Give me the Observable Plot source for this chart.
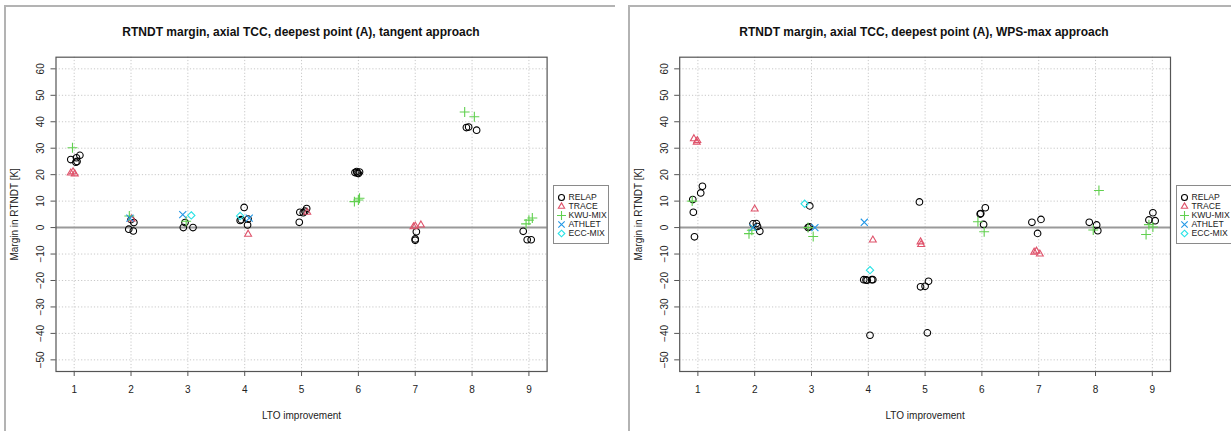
<!DOCTYPE html>
<html>
<head>
<meta charset="utf-8">
<script src="https://cdn.jsdelivr.net/npm/d3@7"></script>
<script src="https://cdn.jsdelivr.net/npm/@observablehq/plot@0.6"></script>
<style>
  body { margin: 0; background: #fff; font-family: "Liberation Sans", Arial, Helvetica, sans-serif; }
  #page { position: relative; width: 1231px; height: 431px; overflow: hidden; }
  .border { position: absolute; border-left: 2px solid #b3b3b3; border-top: 2px solid #b3b3b3; }
  .title { position: absolute; text-align: center; font-weight: bold; font-size: 12px; line-height: 14px; color: #111; white-space: nowrap; }
  .plotbox { position: absolute; top: 0; }
  .legend { position: absolute; border: 1.5px solid #8a8a8a; box-sizing: border-box; background: #fff; }
  svg { overflow: visible; }
</style>
</head>
<body>
<div id="page"></div>
<script>
// ---- tick labels / categories ----
const xTicks = [1, 2, 3, 4, 5, 6, 7, 8, 9];
const yTicks = [-50, -40, -30, -20, -10, 0, 10, 20, 30, 40, 50, 60];
const seriesNames = ["RELAP", "TRACE", "KWU-MIX", "ATHLET", "ECC-MIX"];
const seriesColors = ["#000000", "#DF536B", "#61D04F", "#2297E6", "#28E2E5"];
const seriesSymbols = ["circle", "triangle2", "plus", "times", "diamond2"];

// ---- tangent approach (left) : [LTO improvement (jittered), margin K] ----
const tangentRelap = [
  [0.94, 25.7], [1.03, 24.7], [1.05, 25.0], [1.04, 26.4], [1.10, 27.3],
  [1.96, -0.6], [2.04, -1.3], [2.05, 1.9], [2.00, 3.0],
  [2.92, 0.0], [3.09, 0.0], [2.95, 1.9],
  [3.99, 7.6], [3.92, 2.7], [3.94, 3.0], [4.06, 3.2], [4.05, 1.0],
  [4.96, 2.0], [4.97, 5.8], [5.03, 5.6], [5.06, 6.2], [5.09, 7.2],
  [5.94, 20.8], [5.97, 21.2], [6.00, 20.4], [6.02, 21.0], [5.98, 20.6],
  [7.02, -1.6], [7.00, -4.3], [7.00, -4.8],
  [7.90, 37.8], [7.94, 38.0], [8.08, 36.8],
  [8.90, -1.4], [8.97, -4.6], [9.04, -4.6]
];
const tangentTrace = [
  [0.94, 20.6], [0.98, 21.1], [1.01, 20.3],
  [2.01, 3.3],
  [4.06, -2.5],
  [5.10, 5.8],
  [6.97, 0.3], [7.00, 0.6], [7.10, 1.0]
];
const tangentKwu = [
  [0.97, 30.2],
  [1.97, 4.4],
  [2.97, 2.4],
  [5.93, 9.8], [6.00, 10.4], [6.02, 11.1],
  [7.87, 43.7], [8.04, 41.9],
  [8.95, 1.4], [9.00, 2.8], [9.06, 3.6]
];
const tangentAthlet = [
  [1.98, 3.6],
  [2.91, 4.9],
  [4.08, 3.6]
];
const tangentEcc = [
  [3.06, 4.6],
  [3.92, 4.4]
];

// ---- WPS-max approach (right) ----
const wpsRelap = [
  [0.91, 10.6], [0.92, 5.8], [0.94, -3.5], [1.05, 13.1], [1.08, 15.6],
  [1.97, 1.4], [2.03, 1.5], [2.05, 0.4], [2.09, -1.4],
  [2.94, 0.0], [2.96, 0.3], [2.97, 8.2],
  [3.92, -19.7], [3.96, -19.8], [3.98, -19.9], [4.06, -19.7], [4.08, -19.7], [4.03, -40.7],
  [4.90, 9.7], [4.92, -22.4], [5.00, -22.2], [5.06, -20.3], [5.04, -39.8],
  [5.97, 5.1], [5.98, 5.3], [6.06, 7.5], [6.03, 1.2],
  [6.88, 2.0], [7.04, 3.1], [6.98, -2.2],
  [7.89, 2.0], [8.02, 1.0], [8.04, -1.2],
  [8.94, 2.9], [9.01, 5.6], [9.05, 2.6]
];
const wpsTrace = [
  [0.93, 33.6], [0.99, 32.9], [0.98, 32.3],
  [2.00, 7.0],
  [4.08, -4.7],
  [4.92, -5.4], [4.93, -6.4],
  [6.92, -9.3], [6.96, -8.9], [7.02, -10.0]
];
const wpsKwu = [
  [0.90, 10.0],
  [1.90, -2.3], [1.95, -1.0],
  [2.94, 0.0], [3.03, -3.4],
  [5.93, 2.2], [6.04, -1.6],
  [8.06, 14.0], [7.96, -0.9],
  [8.89, -2.6], [8.94, 1.1], [9.01, 0.2]
];
const wpsAthlet = [
  [1.97, 0.0],
  [3.06, 0.0],
  [3.93, 2.0]
];
const wpsEcc = [
  [2.88, 9.0],
  [4.03, -16.1]
];

function toRows(groups) {
  const rows = [];
  groups.forEach((pts, i) => pts.forEach(([x, y]) => rows.push({series: seriesNames[i], x, y})));
  return rows;
}

const FONT = '"Liberation Sans", Arial, Helvetica, sans-serif';
const page = document.getElementById("page");

function makePanel(cfg) {
  const b = document.createElement("div");
  b.className = "border";
  Object.assign(b.style, cfg.border);
  page.appendChild(b);

  const chart = Plot.plot({
    width: cfg.width,
    height: 431,
    marginLeft: cfg.marginLeft,
    marginRight: cfg.marginRight,
    marginTop: 56.7,
    marginBottom: 60,
    style: {fontFamily: FONT, fontSize: "10px", color: "#222", background: "transparent"},
    x: {domain: [0.68, 9.32]},
    y: {domain: [-54.4, 64.4]},
    symbol: {domain: seriesNames, range: seriesSymbols},
    color: {domain: seriesNames, range: seriesColors},
    marks: [
      Plot.gridX(xTicks, {stroke: "#c8c8c8", strokeOpacity: 1, strokeDasharray: "1.2,2"}),
      Plot.gridY(yTicks, {stroke: "#c8c8c8", strokeOpacity: 1, strokeDasharray: "1.2,2"}),
      Plot.ruleY([0], {stroke: "#9a9a9a", strokeWidth: 2}),
      Plot.axisX(xTicks, {tickSize: 5, tickPadding: 9, stroke: "#555", fontSize: 10,
        label: "LTO improvement", labelAnchor: "center", labelArrow: "none", labelOffset: 47}),
      Plot.axisY(yTicks, {tickSize: 5, tickPadding: 7, tickRotate: -90, stroke: "#555", fontSize: 10,
        label: "Margin in RTNDT [K]", labelAnchor: "center", labelArrow: "none", labelOffset: cfg.labelOffset}),
      Plot.frame({stroke: "#555", strokeWidth: 1.2}),
      Plot.dot(cfg.rows, {x: "x", y: "y", symbol: "series", stroke: "series", r: 3.3, strokeWidth: 1.1})
    ]
  });
  chart.classList.add("plotbox");
  chart.style.left = cfg.left + "px";
  page.appendChild(chart);

  const t = document.createElement("div");
  t.className = "title";
  t.textContent = cfg.title;
  t.style.left = (cfg.titleCenter - 300) + "px";
  t.style.width = "600px";
  t.style.top = "25px";
  page.appendChild(t);

  const leg = Plot.plot({
    width: 54, height: 58,
    marginTop: 9.7, marginBottom: 9.7, marginLeft: 0, marginRight: 0,
    style: {fontFamily: FONT, fontSize: "8.6px", color: "#222", background: "transparent"},
    x: {axis: null},
    y: {type: "point", domain: seriesNames, padding: 0, axis: null},
    symbol: {domain: seriesNames, range: seriesSymbols},
    color: {domain: seriesNames, range: seriesColors},
    marks: [
      Plot.dot(seriesNames, {y: d => d, symbol: d => d, stroke: d => d, frameAnchor: "left", dx: 7, r: 3, strokeWidth: 1.1}),
      Plot.text(seriesNames, {y: d => d, text: d => d, frameAnchor: "left", dx: 14, textAnchor: "start", fill: "#222"})
    ]
  });
  const lw = document.createElement("div");
  lw.className = "legend";
  Object.assign(lw.style, {left: cfg.legendLeft + "px", top: "185px", width: "56px", height: "59px"});
  leg.style.position = "absolute";
  leg.style.left = "0px";
  leg.style.top = "0px";
  lw.appendChild(leg);
  page.appendChild(lw);
}

makePanel({
  left: 0, width: 615, marginLeft: 55.5, marginRight: 68.4, labelOffset: 45,
  border: {left: "4px", top: "5px", width: "609px", height: "430px"},
  title: "RTNDT margin, axial TCC, deepest point (A), tangent approach",
  titleCenter: 301, legendLeft: 553,
  rows: toRows([tangentRelap, tangentTrace, tangentKwu, tangentAthlet, tangentEcc])
});

makePanel({
  left: 615, width: 616, marginLeft: 64.2, marginRight: 61, labelOffset: 45,
  border: {left: "628px", top: "5px", width: "603px", height: "430px"},
  title: "RTNDT margin, axial TCC, deepest point (A), WPS-max approach",
  titleCenter: 924, legendLeft: 1176,
  rows: toRows([wpsRelap, wpsTrace, wpsKwu, wpsAthlet, wpsEcc])
});
</script>
</body>
</html>
